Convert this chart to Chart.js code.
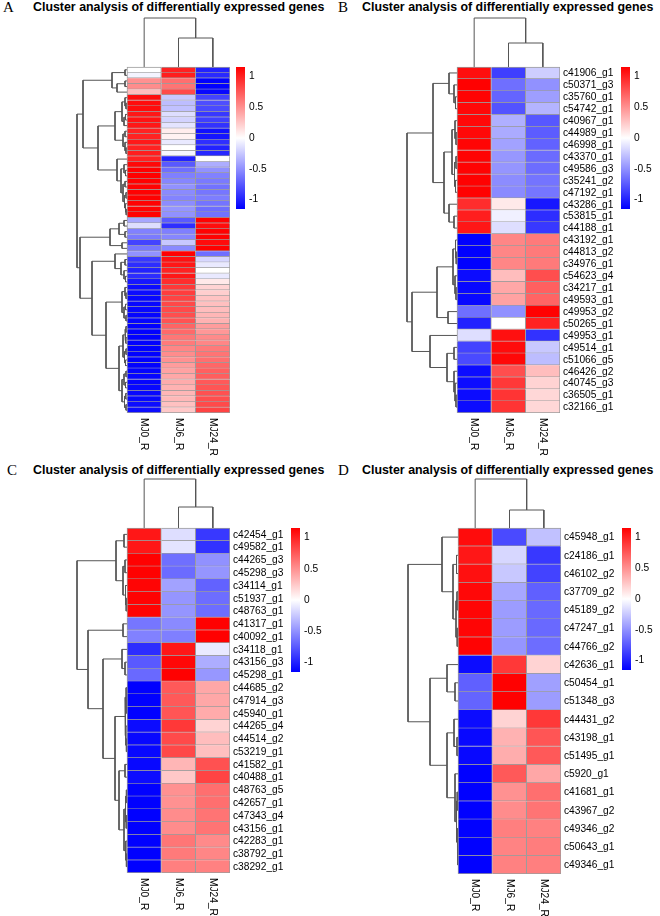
<!DOCTYPE html>
<html>
<head>
<meta charset="utf-8">
<script src="https://cdn.jsdelivr.net/npm/chart.js@4.4.1/dist/chart.umd.min.js"></script>
<style>
  body { margin: 0; width: 660px; height: 916px; position: relative; overflow: hidden; background: #fff; }
  canvas { position: absolute; left: 0; top: 0; }
  .letter { position: absolute; font-family: "Liberation Serif", "Times New Roman", serif; font-size: 15px; line-height: 15px; }
  .title { position: absolute; font-family: "Liberation Sans", Arial, sans-serif; font-weight: bold; font-size: 12.4px; line-height: 14px; white-space: nowrap; }
</style>
</head>
<body>
<div class="letter" style="left:3px;top:0px">A</div>
<div class="title" style="left:33px;top:0px">Cluster analysis of differentially expressed genes</div>
<div class="letter" style="left:338px;top:0px">B</div>
<div class="title" style="left:362px;top:0px">Cluster analysis of differentially expressed genes</div>
<div class="letter" style="left:7px;top:463px">C</div>
<div class="title" style="left:33px;top:463px">Cluster analysis of differentially expressed genes</div>
<div class="letter" style="left:338px;top:463px">D</div>
<div class="title" style="left:362px;top:463px">Cluster analysis of differentially expressed genes</div>
<script>
const columns = ['MJ0_R', 'MJ6_R', 'MJ24_R'];
const colorTicks = [1, 0.5, 0, -0.5, -1];
const zMax = 1.1547; // largest row z-score with three samples

// panel A (no gene labels shown)
const mj0A = [0, -0.05, 0.5, 0.52, 0.3, 1.1, 1.1, 1.1, 1.05, 1.07, 1.05, 1.0, 1.0, 1.04, 1.0, 1.02, 1.0,
  1.12, 1.15, 1.15, 1.15, 1.14, 1.15, 1.15, 1.15, 1.14, 1.14,
  -0.4, -0.15, -0.57, -0.6, -0.85, -0.62, -0.5, -0.9, -0.95, -1.0, -0.95, -1.05,
  -1.1, -1.1, -1.12, -1.12, -1.12, -1.13, -1.13, -1.15, -1.15, -1.15, -1.15, -1.15, -1.15, -1.15,
  -1.14, -1.14, -1.13, -1.13, -1.12, -1.12, -1.12, -1.1, -1.1];
const mj6A = [1.0, 1.02, 0.65, 0.63, 0.82, -0.25, -0.3, -0.28, -0.15, -0.2, -0.12, 0.08, 0.06, -0.1, 0, -0.04, -1.0,
  -0.75, -0.65, -0.58, -0.55, -0.5, -0.53, -0.56, -0.52, -0.48, -0.5,
  -0.75, -0.95, -0.58, -0.55, -0.25, -0.53, 1.15, 1.08, 1.05, 1.0, 1.05, 0.95,
  0.9, 0.88, 0.85, 0.83, 0.82, 0.8, 0.78, 0.7, 0.68, 0.62, 0.6, 0.55, 0.52, 0.5,
  0.45, 0.42, 0.4, 0.38, 0.35, 0.33, 0.32, 0.28, 0.25];
const mj24A = [-1.0, -0.97, -1.15, -1.15, -1.12, -0.85, -0.8, -0.82, -0.9, -0.87, -0.93, -1.08, -1.06, -0.94, -1.0, -0.98, 0,
  -0.37, -0.5, -0.57, -0.6, -0.64, -0.62, -0.59, -0.63, -0.66, -0.64,
  1.15, 1.1, 1.15, 1.15, 1.1, 1.15, -0.65, -0.18, -0.1, 0, -0.1, 0.1,
  0.2, 0.22, 0.27, 0.29, 0.3, 0.33, 0.35, 0.45, 0.47, 0.53, 0.55, 0.6, 0.63, 0.65,
  0.69, 0.72, 0.73, 0.75, 0.77, 0.79, 0.8, 0.82, 0.85];
const rowTreeA = [50,
  [44,
    [15, [2, 0, 1], [10, [2, 2, 3], 4]],
    [29,
      [12, [5, [2, 5, [1, 6, 7]], [3, [1.5, 8, 9], 10]], [4, [2, 11, 12], [2, 13, [1, 14, 15]]]],
      [10, 16, [6, [3, 17, [1.5, 18, 19]], [4, [2, 20, 21], [2.5, [1, 22, 23], [1.5, 24, [0.8, 25, 26]]]]]]]],
  [47,
    [17, [8, [3, 27, 28], [2, 29, 30]], [5, 31, 32]],
    [35,
      [12, 33, [6, [2, 34, 35], [3, 36, [1.5, 37, 38]]]],
      [21,
        [5, [2, 39, [1, 40, 41]], [3, [1.5, 42, 43], [1, 44, 45]]],
        [8, [4, [2, [1, 46, 47], [1.2, 48, 49]], [2.5, [1, 50, 51], [1.5, 52, 53]]],
            [5, [3, [1, 54, 55], [1.5, 56, 57]], [2.5, [1.2, 58, 59], [1, 60, 61]]]]]]]];
const colTreeA = [49, 0, [29, 1, 2]];

// panel B
const genesB = ['c41906_g1', 'c50371_g3', 'c35760_g1', 'c54742_g1', 'c40967_g1', 'c44989_g1', 'c46998_g1',
  'c43370_g1', 'c49586_g3', 'c35241_g2', 'c47192_g1', 'c43286_g1', 'c53815_g1', 'c44188_g1', 'c43192_g1',
  'c44813_g2', 'c34976_g1', 'c54623_g4', 'c34217_g1', 'c49593_g1', 'c49953_g2', 'c50265_g1', 'c49953_g1',
  'c49514_g1', 'c51066_g5', 'c46426_g2', 'c40745_g3', 'c36505_g1', 'c32166_g1'];
const mj0B = [1.09, 1.15, 1.14, 1.12, 1.12, 1.12, 1.13, 1.14, 1.14, 1.15, 1.15, 0.95, 1.02, 1.05,
  -1.15, -1.15, -1.15, -1.1, -1.12, -1.12, -0.65, -1.0, -0.15, -0.85, -0.82, -1.1, -1.1, -1.1, -1.1];
const mj6B = [-0.87, -0.65, -0.7, -0.78, -0.36, -0.38, -0.42, -0.47, -0.48, -0.52, -0.53, 0.1, -0.07, -0.15,
  0.55, 0.55, 0.55, 0.3, 0.4, 0.42, -0.5, 0, 1.08, 1.1, 1.12, 0.8, 0.9, 0.92, 0.92];
const mj24B = [-0.22, -0.5, -0.44, -0.34, -0.76, -0.74, -0.71, -0.67, -0.66, -0.63, -0.62, -1.05, -0.95, -0.9,
  0.6, 0.6, 0.6, 0.8, 0.72, 0.7, 1.15, 1.0, -0.93, -0.25, -0.3, 0.3, 0.2, 0.18, 0.18];
const rowTreeB = [50,
  [24,
    [8, 0, [3, 1, [1.5, 2, 3]]],
    [13, [5, [2, 4, [1, 5, 6]], [2.5, [1, 7, 8], [1.5, 9, 10]]], [8, 11, [3, 12, 13]]]],
  [45,
    [20, [4, [1.5, 14, [0.8, 15, 16]], [2, 17, [1, 18, 19]]], [9, 20, 21]],
    [27, 22, [10, [3, 23, 24], [3, 25, [2, 26, [1, 27, 28]]]]]]];
const colTreeB = [49, 0, [24, 1, 2]];

// panel C
const genesC = ['c42454_g1', 'c49582_g1', 'c44265_g3', 'c45298_g3', 'c34114_g1', 'c51937_g1', 'c48763_g1',
  'c41317_g1', 'c40092_g1', 'c34118_g1', 'c43156_g3', 'c45298_g1', 'c44685_g2', 'c47914_g3', 'c45940_g1',
  'c44265_g4', 'c44514_g2', 'c53219_g1', 'c41582_g1', 'c40488_g1', 'c48763_g5', 'c42657_g1', 'c47343_g4',
  'c43156_g1', 'c42283_g1', 'c38792_g1', 'c38292_g1'];
const mj0C = [1.05, 1.05, 1.15, 1.15, 1.13, 1.14, 1.14, -0.62, -0.57, -0.95, -0.75, -0.68,
  -1.15, -1.15, -1.15, -1.1, -1.12, -1.12, -1.12, -1.1, -1.15, -1.15, -1.15, -1.15, -1.15, -1.15, -1.15];
const mj6C = [-0.15, -0.12, -0.65, -0.67, -0.42, -0.48, -0.48, -0.53, -0.58, 1.05, 1.12, 1.15,
  0.75, 0.75, 0.77, 0.9, 0.82, 0.83, 0.33, 0.25, 0.5, 0.5, 0.52, 0.52, 0.62, 0.6, 0.58];
const mj24C = [-0.9, -0.93, -0.5, -0.48, -0.71, -0.66, -0.66, 1.15, 1.15, -0.1, -0.37, -0.47,
  0.4, 0.4, 0.38, 0.2, 0.3, 0.29, 0.79, 0.85, 0.65, 0.65, 0.63, 0.63, 0.53, 0.55, 0.57];
const rowTreeC = [50,
  [11, [3, 0, 1], [4, [2, 2, 3], [1.5, 4, [0.8, 5, 6]]]],
  [39,
    [4, 7, 8],
    [24,
      [5, 9, [2, 10, 11]],
      [12,
        [2, [1, 12, [0.6, 13, 14]], [1.2, 15, [0.6, 16, 17]]],
        [8, [2, 18, 19], [3, [1.5, [0.6, 20, 21], [0.8, 22, 23]], [1.2, 24, [0.6, 25, 26]]]]]]]];
const colTreeC = [49, 0, [21, 1, 2]];

// panel D
const genesD = ['c45948_g1', 'c24186_g1', 'c46102_g2', 'c37709_g2', 'c45189_g2', 'c47247_g1', 'c44766_g2',
  'c42636_g1', 'c50454_g1', 'c51348_g3', 'c44431_g2', 'c43198_g1', 'c51495_g1', 'c5920_g1', 'c41681_g1',
  'c43967_g2', 'c49346_g2', 'c50643_g1', 'c49346_g1'];
const mj0D = [1.1, 1.05, 1.08, 1.12, 1.13, 1.13, 1.14, -1.1, -0.72, -0.7,
  -1.1, -1.12, -1.12, -1.15, -1.15, -1.15, -1.15, -1.15, -1.15];
const mj6D = [-0.82, -0.18, -0.25, -0.4, -0.45, -0.45, -0.48, 0.9, 1.15, 1.15,
  0.2, 0.35, 0.37, 0.75, 0.5, 0.52, 0.58, 0.56, 0.57];
const mj24D = [-0.28, -0.9, -0.85, -0.72, -0.68, -0.68, -0.66, 0.2, -0.43, -0.45,
  0.9, 0.77, 0.75, 0.4, 0.65, 0.63, 0.57, 0.59, 0.58];
const rowTreeD = [50,
  [16, 0, [5, [1.5, 1, 2], [2, [1, 3, 4], [0.8, 5, 6]]]],
  [28,
    [11, 7, [3, 8, 9]],
    [11, [4, 10, [1, 11, 12]], [3, 13, [1.5, [0.8, 14, 15], [0.6, 16, [0.4, 17, 18]]]]]]];
const colTreeD = [49, 0, [18, 1, 2]];

const panels = [
  { genes: [], vals: [mj0A, mj6A, mj24A], rowTree: rowTreeA, colTree: colTreeA,
    hm: { l: 127, r: 230, t: 67, b: 413 }, dendL: 77, dendT: 18, bar: { l: 236, r: 245, t: 67, b: 209 } },
  { genes: genesB, vals: [mj0B, mj6B, mj24B], rowTree: rowTreeB, colTree: colTreeB,
    hm: { l: 457, r: 560, t: 67, b: 413 }, dendL: 407, dendT: 18, bar: { l: 621, r: 630, t: 67, b: 209 } },
  { genes: genesC, vals: [mj0C, mj6C, mj24C], rowTree: rowTreeC, colTree: colTreeC,
    hm: { l: 127, r: 230, t: 528, b: 873 }, dendL: 77, dendT: 479, bar: { l: 291, r: 300, t: 528, b: 672 } },
  { genes: genesD, vals: [mj0D, mj6D, mj24D], rowTree: rowTreeD, colTree: colTreeD,
    hm: { l: 458, r: 561, t: 528, b: 874 }, dendL: 408, dendT: 479, bar: { l: 622, r: 631, t: 528, b: 670 } }
];

const W = 660, H = 916;
const textFont = '10.2px "Liberation Sans", Arial, sans-serif';

function zColor(v) {
  const t = Math.max(-1, Math.min(1, v / zMax));
  if (t >= 0) {
    const k = Math.round(255 * (1 - t));
    return `rgb(255,${k},${k})`;
  }
  const k = Math.round(255 * (1 + t));
  return `rgb(${k},${k},255)`;
}

function addCanvas() {
  const c = document.createElement('canvas');
  c.width = W;
  c.height = H;
  document.body.appendChild(c);
  return c;
}

// walk a [height, left, right] tree and return the U-shaped links
function dendroLinks(tree, toPoint) {
  const links = [];
  function walk(node) {
    if (typeof node === 'number') return { pos: node + 0.5, h: 0 };
    const [h, a, b] = node;
    const la = walk(a), lb = walk(b);
    links.push([toPoint(la.pos, la.h), toPoint(la.pos, h), toPoint(lb.pos, h), toPoint(lb.pos, lb.h)]);
    return { pos: (la.pos + lb.pos) / 2, h };
  }
  walk(tree);
  return links;
}

function drawHeatmap(p) {
  const n = p.vals[0].length;
  const colW = (p.hm.r - p.hm.l) / 3;
  const rowH = (p.hm.b - p.hm.t) / n;
  const area = { l: p.dendL - 1, t: p.dendT - 1, r: p.hm.r, b: p.hm.b };
  const kx = (p.hm.l - p.dendL) / colW / p.rowTree[0];
  const ky = (p.hm.t - p.dendT) / rowH / p.colTree[0];

  const datasets = p.vals.map((vals, c) => ({
    type: 'bar',
    indexAxis: 'y',
    grouped: false,
    barPercentage: 1,
    categoryPercentage: 1,
    data: vals.map((v, i) => ({ x: [c, c + 1], y: i + 0.5 })),
    backgroundColor: vals.map(zColor),
    borderColor: '#9c9c9c',
    borderSkipped: false,
    borderWidth: ctx => ({ top: ctx.dataIndex === 0 ? 1 : 0, left: c === 0 ? 1 : 0, right: 1, bottom: 1 })
  }));

  const lineStyle = { type: 'line', borderColor: '#555555', borderWidth: 1, pointRadius: 0, fill: false, tension: 0 };
  dendroLinks(p.rowTree, (pos, h) => ({ x: -h * kx, y: pos }))
    .forEach(pts => datasets.push({ ...lineStyle, data: pts }));
  dendroLinks(p.colTree, (pos, h) => ({ x: pos, y: -h * ky }))
    .forEach(pts => datasets.push({ ...lineStyle, data: pts }));

  const labels = {
    id: 'heatLabels',
    afterDraw(chart) {
      const { ctx, scales: { x, y } } = chart;
      ctx.save();
      ctx.fillStyle = '#000';
      ctx.font = textFont;
      ctx.textBaseline = 'middle';
      ctx.textAlign = 'left';
      p.genes.forEach((g, i) => ctx.fillText(g, x.getPixelForValue(3) + 3, y.getPixelForValue(i + 0.5) + 0.5));
      const top = y.getPixelForValue(n) + 5;
      columns.forEach((name, i) => {
        ctx.save();
        ctx.translate(x.getPixelForValue(i + 0.5), top);
        ctx.rotate(Math.PI / 2);
        ctx.fillText(name, 0, 0);
        ctx.restore();
      });
      ctx.restore();
    }
  };

  new Chart(addCanvas(), {
    type: 'bar',
    data: { datasets },
    plugins: [labels],
    options: {
      responsive: false,
      animation: false,
      events: [],
      layout: { padding: { left: area.l, top: area.t, right: W - area.r, bottom: H - area.b } },
      plugins: { legend: { display: false }, tooltip: { enabled: false } },
      scales: {
        x: { type: 'linear', display: false, offset: false, min: -(p.hm.l - area.l) / colW, max: 3 },
        y: { type: 'linear', display: false, offset: false, reverse: true,
             min: -(p.hm.t - area.t) / rowH, max: n, afterBuildTicks: s => { s.ticks = []; } }
      }
    }
  });
}

function drawColorBar(p) {
  const tickLabels = {
    id: 'barTicks',
    afterDraw(chart) {
      const { ctx, chartArea, scales: { y } } = chart;
      ctx.save();
      ctx.fillStyle = '#000';
      ctx.font = textFont;
      ctx.textBaseline = 'middle';
      colorTicks.forEach(t => ctx.fillText(String(t), chartArea.right + 4, y.getPixelForValue(t)));
      ctx.restore();
    }
  };
  new Chart(addCanvas(), {
    type: 'bar',
    data: {
      labels: [''],
      datasets: [{
        data: [[-zMax, zMax]],
        barPercentage: 1,
        categoryPercentage: 1,
        borderWidth: 0,
        backgroundColor: ctx => {
          const a = ctx.chart.chartArea;
          if (!a) return '#fff';
          const g = ctx.chart.ctx.createLinearGradient(0, a.bottom, 0, a.top);
          g.addColorStop(0, '#0000ff');
          g.addColorStop(0.5, '#ffffff');
          g.addColorStop(1, '#ff0000');
          return g;
        }
      }]
    },
    plugins: [tickLabels],
    options: {
      responsive: false,
      animation: false,
      events: [],
      layout: { padding: { left: p.bar.l, top: p.bar.t, right: W - p.bar.r, bottom: H - p.bar.b } },
      plugins: { legend: { display: false }, tooltip: { enabled: false } },
      scales: {
        x: { display: false },
        y: { display: false, min: -zMax, max: zMax }
      }
    }
  });
}

panels.forEach(p => {
  drawHeatmap(p);
  drawColorBar(p);
});
</script>
</body>
</html>
